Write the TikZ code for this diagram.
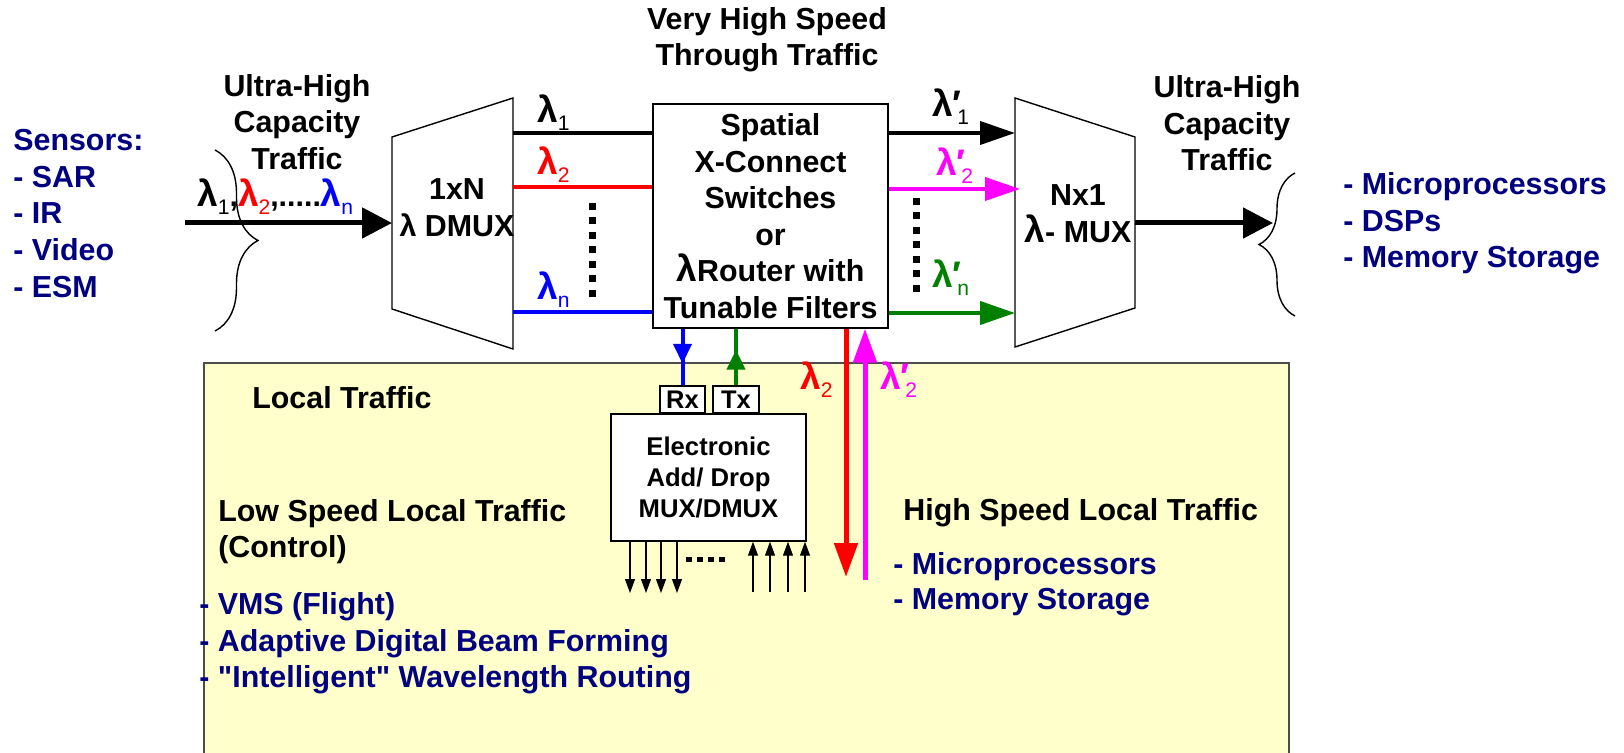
\documentclass[tikz,border=0pt]{standalone}
\usepackage{xcolor}
\usepackage{fontspec}
\setmainfont{Liberation Sans}[Ligatures=TeXOff]
\usepackage{tikz}
\usetikzlibrary{arrows.meta,positioning,decorations.pathreplacing,decorations.markings}
\definecolor{navytext}{RGB}{0,0,128}
\definecolor{localfill}{RGB}{255,255,204}
\definecolor{lamred}{RGB}{255,0,0}
\definecolor{lampink}{RGB}{255,0,255}
\definecolor{lamgreen}{RGB}{0,128,0}
\definecolor{lamblue}{RGB}{0,0,255}
\newcommand{\biglam}{{\fontsize{21}{20}\selectfont λ}}
\newcommand{\lsub}[1]{\raisebox{-0.45ex}{\fontsize{12}{12}\selectfont\mdseries #1}}
\newcommand{\lam}[1]{\biglam\lsub{#1}}
\newcommand{\lamp}[1]{\biglam{\fontsize{21}{20}\selectfont ′}\kern-0.14em\lsub{#1}}

\begin{document}
\begin{tikzpicture}[x=0.02cm, y=-0.02cm,
  every node/.style={font=\fontsize{17.3}{20.8}\selectfont\bfseries, inner sep=0pt},
  heading/.style={align=center},
  navylist/.style={align=left, text=navytext, anchor=west},
  boxnode/.style={draw, fill=white, line width=0.8pt},
  lbl/.style={anchor=base west},
  wavelen/.style={line width=0.08cm},
  bigarrow/.style={line width=0.1cm, -{Triangle[length=0.6cm,width=0.6cm]}},
  lamarrow/.style={line width=0.08cm, -{Triangle[length=0.7cm,width=0.46cm]}},
  droparrow/.style={line width=0.1cm, -{Triangle[length=0.68cm,width=0.46cm]}},
  pinarrow/.style={line width=0.6pt, -{Triangle[length=0.28cm,width=0.2cm]}},
  midtip/.style={postaction={decorate}, decoration={markings,
      mark=at position #1 with {\arrow{Triangle[length=0.4cm,width=0.36cm]}}}},
  dotcol/.style={line width=0.14cm, dash pattern=on 0.14cm off 0.15cm},
  curly/.style={line width=0.8pt, decorate, decoration={brace, amplitude=#1}},
]
\useasboundingbox (0,0) rectangle (1624,753);

% local traffic area
\path[draw=black!70, fill=localfill, line width=0.8pt] (204,363) rectangle (1289,790);

% demultiplexer and multiplexer
\draw[line width=0.8pt] (392,137) -- (513,98) -- (513,349) -- (392,309) -- cycle;
\draw[line width=0.8pt] (1015,98) -- (1135,137) -- (1135,308) -- (1015,347) -- cycle;
\coordinate (dmuxin) at (392,223);
\coordinate (srcin) at (185,223);
\coordinate (muxout) at (1135,223);
\coordinate (sinkin) at (1273,223);
\node[heading] (dmuxlbl) at (457,207.5) {1xN\\λ DMUX};
\node[heading] (muxlbl) at (1078,213.5) {Nx1\\\biglam- MUX};

% cross-connect
\node[boxnode, minimum width=4.7cm, minimum height=4.48cm, align=center] (xc) at (770.5,216)
  {Spatial\\X-Connect\\Switches\\or\\\biglam Router with\\Tunable Filters};

% wavelengths in
\coordinate (dm1) at (513,133);
\coordinate (dm2) at (513,187);
\coordinate (dmn) at (513,312);
\draw[wavelen] (dm1) -- (dm1 -| xc.west);
\draw[wavelen, lamred] (dm2) -- (dm2 -| xc.west);
\draw[wavelen, lamblue] (dmn) -- (dmn -| xc.west);
\draw[dotcol] (592,203) -- (592,297);
\node[lbl] (l1) at (537,123) {\lam{1}};
\node[lbl, text=lamred] (l2) at (537,175) {\lam{2}};
\node[lbl, text=lamblue] (ln) at (537,300) {\lam{n}};

% wavelengths out
\coordinate (mx1) at (1015,133);
\coordinate (mx2) at (1020,189);
\coordinate (mxn) at (1015,313);
\draw[lamarrow] (mx1 -| xc.east) -- (mx1);
\draw[lamarrow, lampink] (mx2 -| xc.east) -- (mx2);
\draw[lamarrow, lamgreen] (mxn -| xc.east) -- (mxn);
\draw[dotcol] (916,198) -- (916,292);
\node[lbl] (o1) at (932,117) {\lamp{1}};
\node[lbl, text=lampink] (o2) at (936,176) {\lamp{2}};
\node[lbl, text=lamgreen] (on) at (932,288) {\lamp{n}};

% trunk in and out
\draw[bigarrow] (srcin) -- (dmuxin);
\draw[bigarrow] (muxout) -- (sinkin);
\draw[curly=0.86cm] (215,150) -- (215,331);
\draw[curly=0.72cm] (1295,316) -- (1295,173);
\node[lbl] (inlbl) at (197,207) {\lam{1},\textcolor{lamred}{\lam{2}},.....\textcolor{lamblue}{\lam{n}}};
\node[heading] (thru) at (767,39.5) {Very High Speed\\Through Traffic};
\node[heading] (capin) at (297,122) {Ultra-High\\Capacity\\Traffic};
\node[heading] (capout) at (1227,123.5) {Ultra-High\\Capacity\\Traffic};
\node[navylist] (sensors) at (13,213.5) {Sensors:\\- SAR\\- IR\\- Video\\- ESM};
\node[navylist] (sinks) at (1343,223.5) {- Microprocessors\\- DSPs\\- Memory Storage};

% electronic add/drop
\node[boxnode, minimum width=0.9cm, minimum height=0.54cm, font=\fontsize{14.5}{14}\selectfont\bfseries] (rx) at (682.5,399.5) {Rx};
\node[boxnode, minimum width=0.92cm, minimum height=0.54cm, font=\fontsize{14.5}{14}\selectfont\bfseries] (tx) at (736,399.5) {Tx};
\node[boxnode, minimum width=3.9cm, minimum height=2.54cm, align=center,
  font=\fontsize{14.6}{17.6}\selectfont\bfseries] (adm) at (708.5,477.5) {Electronic\\Add/ Drop\\MUX/DMUX};
\draw[line width=0.08cm, lamblue, midtip=0.62] (rx.north |- xc.south) -- (rx.north);
\draw[line width=0.08cm, lamgreen, midtip=0.63] (tx.north) -- (tx.north |- xc.south);
\foreach \x in {630,646,661,677}{
  \coordinate (out\x) at (\x,593);
  \draw[pinarrow] (adm.south -| out\x) -- (out\x);
}
\foreach \x in {753,770,788,805}{
  \coordinate (in\x) at (\x,592);
  \draw[pinarrow] (in\x) -- (adm.south -| in\x);
}
\draw[line width=0.1cm, dash pattern=on 0.12cm off 0.1cm] (686,559) -- (725,559);

% high speed drop and add
\coordinate (drop) at (846,577);
\coordinate (add) at (865,580);
\draw[droparrow, lamred] (drop |- xc.south) -- (drop);
\draw[droparrow, lampink] (add) -- (add |- xc.south);
\node[lbl, text=lamred] (d2) at (800,390) {\lam{2}};
\node[lbl, text=lampink] (a2) at (880,390) {\lamp{2}};

% local traffic texts
\node[anchor=west] (localt) at (252,398) {Local Traffic};
\node[anchor=west, align=left] (lowspd) at (218,531.5) {Low Speed Local Traffic\\(Control)};
\node[navylist] (lowlist) at (199,643.5) {- VMS (Flight)\\- Adaptive Digital Beam Forming\\- "Intelligent" Wavelength Routing};
\node[anchor=west] (highspd) at (903,513) {High Speed Local Traffic};
\node[navylist, font=\fontsize{17.3}{20}\selectfont\bfseries] (highlist) at (893,584.5) {- Microprocessors\\- Memory Storage};
\end{tikzpicture}
\end{document}
